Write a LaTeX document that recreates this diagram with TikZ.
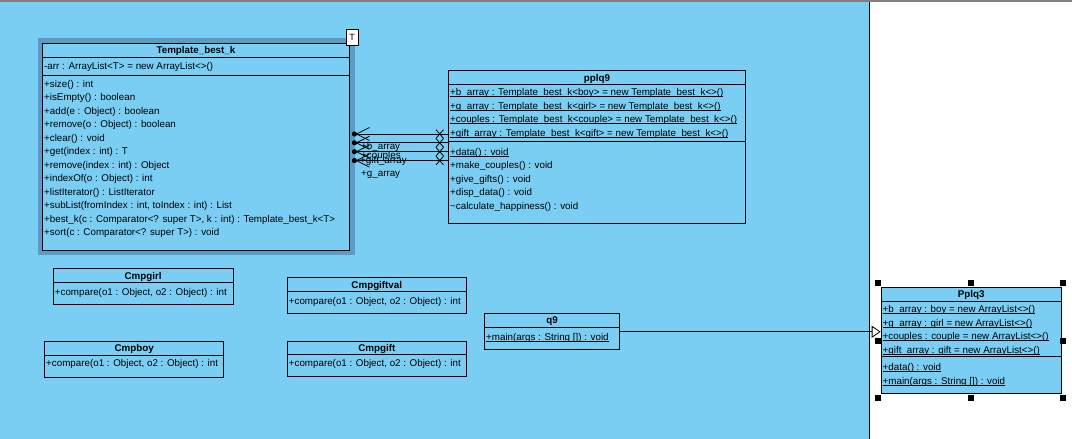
\documentclass[tikz,border=0pt]{standalone}
\usepackage{fontspec}
\setmainfont{Liberation Sans}
\usetikzlibrary{arrows.meta}
\definecolor{umlblue}{RGB}{122,206,244}
\definecolor{umlframe}{RGB}{92,156,196}
\definecolor{topgray}{RGB}{128,128,128}
% underline drawn just below the baseline (static members)
\newcommand\staticul[1]{\setbox0\hbox{#1}\rlap{\rule[-1.3pt]{\wd0}{0.7pt}}\box0}

\begin{document}
\begin{tikzpicture}[x=1pt,y=-1pt,
  classbox/.style={draw=black, fill=umlblue, line width=0.9pt, inner sep=0pt, anchor=north west},
  member/.style={anchor=base west, inner sep=0pt, font=\fontsize{9.8}{11}\selectfont, text=black},
  cname/.style={anchor=base, inner sep=0pt, font=\fontsize{9.8}{11}\selectfont\bfseries, text=black},
  sep/.style={draw=black, line width=0.9pt},
  link/.style={draw=black, line width=0.8pt},
  handle/.style={fill=black, minimum size=6pt, inner sep=0pt},
]
\useasboundingbox (0,0) rectangle (1072,439);

% canvas: diagram area and the white strip on the right
\fill[umlblue] (0,0) rectangle (869.5,439);
\fill[white] (869.5,0) rectangle (1072,439);
\draw[topgray, line width=1.5pt] (0,0.75) -- (1072,0.75);
\draw[black, line width=1pt] (869.5,1.5) -- (869.5,439);

% ---------- Template_best_k ----------
\node[fill=umlframe, inner sep=0pt, anchor=north west, minimum width=317pt, minimum height=217pt] (tbf) at (38,38) {};
\node[classbox, minimum width=307pt, minimum height=207pt] (tb) at (42,43) {};
\node[draw=black, fill=white, line width=0.6pt, inner sep=0pt, minimum width=12pt, minimum height=16pt,
      font=\fontsize{9}{10}\selectfont] (tparam) at (352,37.5) {T};
\node[cname] (tbname) at (tb.north |- 0,53.5) {Template\_best\_k};
\draw[sep] (tb.west |- 0,57) -- (tb.east |- 0,57);
\node[member] (tbarr) at (44,69.5) {-arr : ArrayList<T> = new ArrayList<>()};
\draw[sep] (tb.west |- 0,75) -- (tb.east |- 0,75);
\foreach \t [count=\i from 0] in {
  {+size() : int},
  {+isEmpty() : boolean},
  {+add(e : Object) : boolean},
  {+remove(o : Object) : boolean},
  {+clear() : void},
  {+get(index : int) : T},
  {+remove(index : int) : Object},
  {+indexOf(o : Object) : int},
  {+listIterator() : ListIterator},
  {+subList(fromIndex : int, toIndex : int) : List},
  {+best\_k(c : Comparator<? super T>, k : int) : Template\_best\_k<T>},
  {+sort(c : Comparator<? super T>) : void}}
  \node[member] (tbop\i) at (44,87.5+13.45*\i) {\t};

% ---------- pplq9 ----------
\node[classbox, minimum width=297pt, minimum height=153pt] (pq) at (448,70) {};
\node[cname] (pqname) at (pq.north |- 0,81) {pplq9};
\draw[sep] (pq.west |- 0,84.5) -- (pq.east |- 0,84.5);
\foreach \t [count=\i from 0] in {
  {+b\_array : Template\_best\_k<boy> = new Template\_best\_k<>()},
  {+g\_array : Template\_best\_k<girl> = new Template\_best\_k<>()},
  {+couples : Template\_best\_k<couple> = new Template\_best\_k<>()},
  {+gift\_array : Template\_best\_k<gift> = new Template\_best\_k<>()}}
  \node[member] (pqat\i) at (450,95.8+13.5*\i) {\staticul{\t}};
\draw[sep] (pq.west |- 0,141) -- (pq.east |- 0,141);
\node[member] (pqop0) at (450,155.2) {\staticul{+data() : void}};
\foreach \t [count=\i from 1] in {
  {+make\_couples() : void},
  {+give\_gifts() : void},
  {+disp\_data() : void},
  {\textasciitilde calculate\_happiness() : void}}
  \node[member] (pqop\i) at (450,155.2+13.5*\i) {\t};

% ---------- comparators ----------
\node[classbox, minimum width=180pt, minimum height=36pt] (cgirl) at (52.7,268.3) {};
\node[cname] (cgirlname) at (cgirl.north |- 0,279) {Cmpgirl};
\draw[sep] (cgirl.west |- 0,282.7) -- (cgirl.east |- 0,282.7);
\node[member] (cgirlop) at (54.7,295.2) {+compare(o1 : Object, o2 : Object) : int};

\node[classbox, minimum width=179.3pt, minimum height=36pt] (cboy) at (44,340.7) {};
\node[cname] (cboyname) at (cboy.north |- 0,351) {Cmpboy};
\draw[sep] (cboy.west |- 0,355) -- (cboy.east |- 0,355);
\node[member] (cboyop) at (46,366.8) {+compare(o1 : Object, o2 : Object) : int};

\node[classbox, minimum width=179.3pt, minimum height=35.4pt] (cgv) at (286.7,277.3) {};
\node[cname] (cgvname) at (cgv.north |- 0,288) {Cmpgiftval};
\draw[sep] (cgv.west |- 0,291.7) -- (cgv.east |- 0,291.7);
\node[member] (cgvop) at (288.7,304.2) {+compare(o1 : Object, o2 : Object) : int};

\node[classbox, minimum width=179.3pt, minimum height=35.3pt] (cg) at (286.7,340.7) {};
\node[cname] (cgname) at (cg.north |- 0,351) {Cmpgift};
\draw[sep] (cg.west |- 0,354.3) -- (cg.east |- 0,354.3);
\node[member] (cgop) at (288.7,366.8) {+compare(o1 : Object, o2 : Object) : int};

% ---------- q9 ----------
\node[classbox, minimum width=135.3pt, minimum height=36pt] (q9) at (484,313.3) {};
\node[cname] (q9name) at (q9.north |- 0,323.8) {q9};
\draw[sep] (q9.west |- 0,327.3) -- (q9.east |- 0,327.3);
\node[member] (q9op) at (486,340.2) {\staticul{+main(args : String []) : void}};

% ---------- Pplq3 ----------
\node[classbox, minimum width=180pt, minimum height=106.6pt] (pp) at (880.7,286.7) {};
\node[cname] (ppname) at (pp.north |- 0,297.5) {Pplq3};
\draw[sep] (pp.west |- 0,301) -- (pp.east |- 0,301);
\foreach \t [count=\i from 0] in {
  {+b\_array : boy = new ArrayList<>()},
  {+g\_array : girl = new ArrayList<>()},
  {+couples : couple = new ArrayList<>()},
  {+gift\_array : gift = new ArrayList<>()}}
  \node[member] (ppat\i) at (882.5,312.8+13.4*\i) {\staticul{\t}};
\draw[sep] (pp.west |- 0,356.7) -- (pp.east |- 0,356.7);
\node[member] (ppop0) at (882.5,370.8) {\staticul{+data() : void}};
\node[member] (ppop1) at (882.5,384.5) {\staticul{+main(args : String []) : void}};

% selection handles around Pplq3
\foreach \hx/\hy [count=\k] in {878/283, 971/283, 1063/283, 878/340.5, 1063/340.5, 878/397.5, 971/397.5, 1063/397.5}
  \node[handle] (hd\k) at (\hx,\hy) {};

% ---------- associations Template_best_k -- pplq9 ----------
\foreach \y [count=\i] in {134, 142.8, 151.7, 160.6} {
  \coordinate (as\i) at (tbf.east |- 0,\y);
  \coordinate (ae\i) at (pq.west |- 0,\y);
  \draw[link] (as\i) -- (ae\i);
  \fill[black] ([xshift=-1pt]as\i) circle (2.6pt);
  \draw[link] ([xshift=14pt, yshift=6.5pt]as\i) -- ([xshift=1pt]as\i) -- ([xshift=14pt, yshift=-6.5pt]as\i);
  \draw[link] ([xshift=-12pt, yshift=4.3pt]ae\i) -- ([xshift=-4.5pt, yshift=-4.3pt]ae\i);
  \draw[link] ([xshift=-12pt, yshift=-4.3pt]ae\i) -- ([xshift=-4.5pt, yshift=4.3pt]ae\i);
}
\node[member] (rb) at (361,149.5) {+b\_array};
\node[member] (rc) at (361,158.5) {+couples};
\node[member] (rgf) at (360,163.5) {+gift\_array};
\node[member] (rg) at (361,176.8) {+g\_array};

% ---------- q9 to Pplq3 ----------
\draw[link, -{Triangle[open, length=9pt, width=12pt, fill=white]}] (q9.east) -- (q9.east -| pp.west);

\end{tikzpicture}
\end{document}
